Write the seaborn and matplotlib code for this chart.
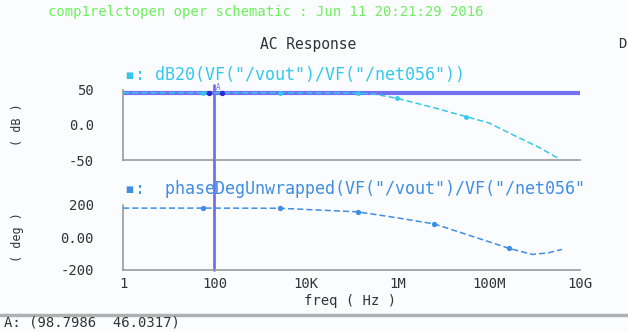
import numpy as np
import pandas as pd
import matplotlib
matplotlib.use("Agg")
import matplotlib.pyplot as plt
import seaborn as sns

# values (x in log10(Hz))
magLogF = [0, 1.75, 3.43, 5.13, 5.5, 6.0, 6.78, 7.5, 8.0, 8.62, 9.1, 9.5]
magDb = [46, 46, 46, 45.5, 44, 38, 25, 12, 3, -17, -32, -47]
phaseLogF = [0, 1.75, 3.43, 5.13, 6.0, 6.8, 7.6, 8.45, 8.95, 9.3, 9.6]
phaseDeg = [180, 180, 179, 157, 120, 83, 10, -68, -105, -95, -74]
markerIdx = [1, 2, 3, 5, 7]

tickVals = [1, 100, 1e4, 1e6, 1e8, 1e10]
tickLabels = ["1", "100", "10K", "1M", "100M", "10G"]
cursorFreq = 98.7986
cursorDb = 46.0317

magColor = "#35c8ec"
phaseColor = "#3f8ee2"
cursorColor = "#7272f0"
spineColor = "#9a9a9a"
textColor = "#333333"
bg = "#fbfcfd"

sns.set_style("white")
plt.rcParams["font.family"] = ["DejaVu Sans Mono", "DejaVu Sans"]

fig = plt.figure(figsize=(6.28, 3.32), dpi=100)
fig.patch.set_facecolor(bg)

axMag = fig.add_axes([0.196, 0.518, 0.728, 0.211])
axPh = fig.add_axes([0.196, 0.187, 0.728, 0.196])

magDf = pd.DataFrame({"freq": 10 ** np.array(magLogF), "val": magDb})
phDf = pd.DataFrame({"freq": 10 ** np.array(phaseLogF), "val": phaseDeg})

# cursor lines drawn first so the traces sit on top
axMag.axhline(cursorDb, color=cursorColor, lw=3, zorder=1)
axMag.axvline(cursorFreq, ymin=0, ymax=75 / 70, color=cursorColor,
              lw=2, clip_on=False, zorder=1)
axPh.axvline(cursorFreq, ymin=0, ymax=110 / 65, color=cursorColor,
             lw=2, clip_on=False, zorder=1)

sns.lineplot(data=magDf, x="freq", y="val", ax=axMag, color=magColor,
             lw=1.1, linestyle=(0, (4, 2)), zorder=3)
sns.lineplot(data=phDf, x="freq", y="val", ax=axPh, color=phaseColor,
             lw=1.1, linestyle=(0, (4, 2)), zorder=3)
axMag.scatter(magDf["freq"].iloc[markerIdx], magDf["val"].iloc[markerIdx],
              s=6, color=magColor, zorder=4)
axPh.scatter(phDf["freq"].iloc[markerIdx], phDf["val"].iloc[markerIdx],
             s=8, color=phaseColor, zorder=4)
axMag.scatter([cursorFreq * 0.75, cursorFreq * 1.45], [cursorDb, cursorDb],
              s=8, color="#2a2ad0", zorder=5)
axMag.text(cursorFreq * 1.1, cursorDb + 0.8, "A", color=cursorColor,
           fontsize=5.5, ha="left", va="bottom")

for ax in (axMag, axPh):
    ax.set_xscale("log")
    ax.set_xlim(1, 1e10)
    ax.set_facecolor("none")
    for side in ("top", "right"):
        ax.spines[side].set_visible(False)
    for side in ("left", "bottom"):
        ax.spines[side].set_color(spineColor)
        ax.spines[side].set_linewidth(1.2)
    ax.set_xlabel("")
    ax.set_ylabel("")
    ax.tick_params(axis="y", length=3, color=spineColor, labelsize=10,
                   labelcolor=textColor, pad=18)
    ax.minorticks_off()

axMag.set_ylim(-50, 50)
axMag.set_yticks([50, 0, -50])
axMag.set_yticklabels(["50", "0.0", "-50"])
axMag.set_xticks(tickVals)
axMag.tick_params(axis="x", length=2, color=spineColor, labelbottom=False)

axPh.set_ylim(-200, 200)
axPh.set_yticks([200, 0, -200])
axPh.set_yticklabels(["200", "0.00", "-200"])
axPh.set_xticks(tickVals)
axPh.set_xticklabels(tickLabels)
axPh.tick_params(axis="x", length=2, color=spineColor, labelsize=10,
                 labelcolor=textColor, pad=3)

axMag.text(0.005, 1.08, '\u25aa: dB20(VF("/vout")/VF("/net056"))',
           transform=axMag.transAxes, color=magColor, fontsize=12,
           ha="left", va="bottom")
axPh.text(0.005, 1.1, '\u25aa:  phaseDegUnwrapped(VF("/vout")/VF("/net056"',
          transform=axPh.transAxes, color=phaseColor, fontsize=12,
          ha="left", va="bottom")

fig.text(17 / 628, 1 - 125 / 332, "( dB )", rotation=90, fontsize=8.5,
         color=textColor, ha="center", va="center")
fig.text(17 / 628, 1 - 237 / 332, "( deg )", rotation=90, fontsize=8.5,
         color=textColor, ha="center", va="center")
fig.text(350 / 628, 1 - 301 / 332, "freq ( Hz )", fontsize=10,
         color=textColor, ha="center", va="center")

fig.text(266 / 628, 1 - 12 / 332,
         "comp1relctopen oper schematic : Jun 11 20:21:29 2016",
         fontsize=10, color="#70ee60", ha="center", va="center")
fig.text(308 / 628, 1 - 44 / 332, "AC Response", fontsize=10.5,
         color=textColor, ha="center", va="center")
fig.text(622 / 628, 1 - 44 / 332, "D", fontsize=10, color=textColor,
         ha="center", va="center")

fig.add_artist(plt.Line2D([0, 1], [1 - 315 / 332] * 2, color="#b0b0b0",
                          lw=2.5, transform=fig.transFigure))
fig.text(4 / 628, 1 - 323 / 332, "A: (98.7986  46.0317)", fontsize=10,
         color=textColor, ha="left", va="center")

fig.savefig("out.png", dpi=100, facecolor=fig.get_facecolor())
